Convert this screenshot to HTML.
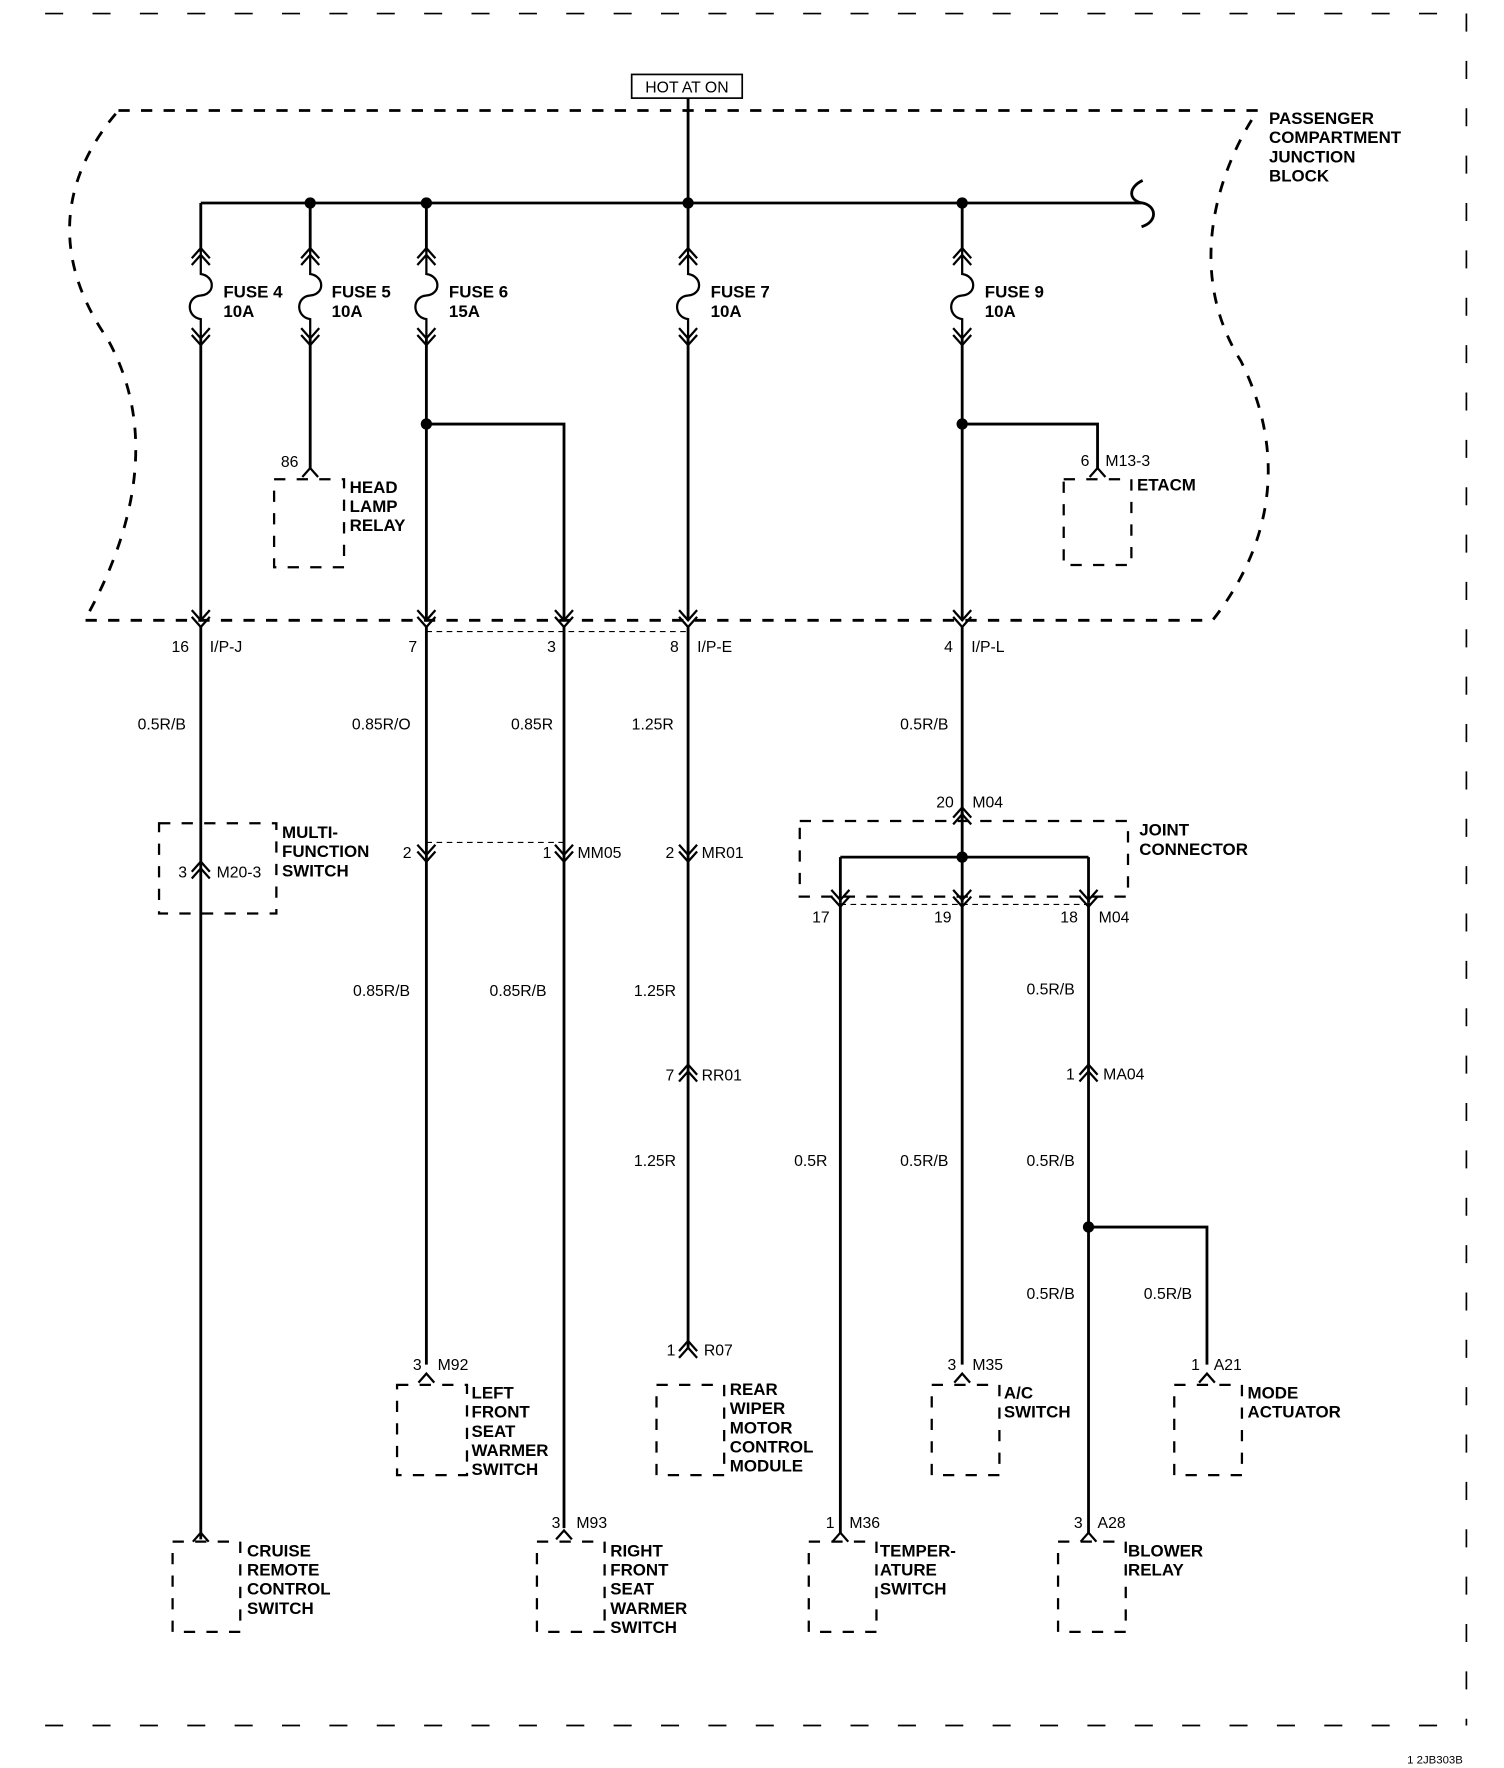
<!DOCTYPE html>
<html><head><meta charset="utf-8"><style>
html,body{margin:0;padding:0;background:#fff}
svg{display:block}
text{font-family:"Liberation Sans",Arial,sans-serif;fill:#000}
.b{font-weight:bold;font-size:15px}
.w{font-size:14px}
</style></head><body>
<svg width="1504" height="1768" viewBox="0 0 1320 1552" preserveAspectRatio="none" xmlns="http://www.w3.org/2000/svg">
<defs>
<g id="dn" fill="none" stroke="#000" stroke-width="2"><path d="M-8,-9 L0,0 L8,-9 M-8,-3 L0,6 L8,-3"/></g>
<g id="up" fill="none" stroke="#000" stroke-width="2"><path d="M-8,9 L0,0 L8,9 M-8,3 L0,-6 L8,3"/></g>
<g id="fuse" fill="none" stroke="#000" stroke-width="2"><path d="M-8,-34 L0,-43 L8,-34 M-8,-28 L0,-37 L8,-28 M0,-43 L0,-20 C13,-18 13,-2 0,-1 C-13,0 -13,18 0,20 L0,43 M-8,34 L0,43 L8,34 M-8,28 L0,37 L8,28"/></g>
</defs>
<g transform="scale(0.99)">
<g fill="none" stroke="#000" stroke-width="2" stroke-dasharray="10,10">
<path d="M40,12 H1300 M1300,12 V1530 M40,1530 H1300" stroke-dasharray="16,26" stroke-width="1.5"/>
<path d="M105,98 H1115 C1080,150 1050,240 1100,320 C1140,400 1130,480 1075,550 H75 C120,470 140,380 95,300 C40,220 60,150 105,98" stroke-width="2.5"/>
<rect x="243" y="425" width="62" height="78"/>
<rect x="943" y="425" width="60" height="76"/>
<rect x="141" y="730" width="104" height="80"/>
<rect x="709" y="728" width="291" height="67"/>
<rect x="352" y="1228" width="62" height="80"/>
<rect x="582" y="1228" width="60" height="80"/>
<rect x="826" y="1228" width="60" height="80"/>
<rect x="1041" y="1228" width="60" height="80"/>
<rect x="153" y="1367" width="60" height="80"/>
<rect x="476" y="1367" width="60" height="80"/>
<rect x="717" y="1367" width="60" height="80"/>
<rect x="938" y="1367" width="60" height="80"/>
<path d="M378,560 H610 M378,747 H500 M745,802 H965" stroke-width="1" stroke-dasharray="5,4"/>
</g>
<rect x="560" y="66" width="98" height="21" fill="#fff" stroke="#000" stroke-width="1.5"/>
<text x="609" y="82" text-anchor="middle" style="font-size:14px">HOT AT ON</text>
<g fill="none" stroke="#000" stroke-width="2.5">
<path d="M610,87 V180 M178,180 H1013 M1013,160 C1000,166 1000,178 1013,180 C1026,183 1026,197 1012,201"/>
<path d="M178,180 V220 M275,180 V220 M378,180 V220 M610,180 V220 M853,180 V220"/>
<path d="M178,300 V550 M275,300 V415 M378,300 V550 M378,376 H500 V550 M610,300 V550 M853,300 V550 M853,376 H973 V415"/>
<path d="M178,555 V1365 M378,555 V1210 M500,555 V1355 M610,555 V1195 M853,555 V728"/>
<path d="M853,720 V760 M745,760 H965 M745,760 V800 M853,760 V800 M965,760 V800"/>
<path d="M745,800 V1360 M853,800 V1210 M965,800 V1360 M965,1088 H1070 V1210"/>
</g>
<g fill="#000"><circle cx="275" cy="180" r="5"/><circle cx="378" cy="180" r="5"/><circle cx="610" cy="180" r="5"/><circle cx="853" cy="180" r="5"/><circle cx="378" cy="376" r="5"/><circle cx="853" cy="376" r="5"/><circle cx="853" cy="760" r="5"/><circle cx="965" cy="1088" r="5"/></g>
<g fill="#fff">
<use href="#fuse" x="178" y="263"/><use href="#fuse" x="275" y="263"/><use href="#fuse" x="378" y="263"/><use href="#fuse" x="610" y="263"/><use href="#fuse" x="853" y="263"/>
<use href="#dn" x="178" y="550"/><use href="#dn" x="378" y="550"/><use href="#dn" x="500" y="550"/><use href="#dn" x="610" y="550"/><use href="#dn" x="853" y="550"/>
<use href="#dn" x="378" y="758"/><use href="#dn" x="500" y="758"/><use href="#dn" x="610" y="758"/>
<use href="#dn" x="745" y="798"/><use href="#dn" x="853" y="798"/><use href="#dn" x="965" y="798"/>
<use href="#up" x="853" y="722"/><use href="#up" x="178" y="770"/><use href="#up" x="610" y="950"/><use href="#up" x="965" y="950"/><use href="#up" x="610" y="1195"/>
</g>
<g fill="none" stroke="#000" stroke-width="2"><path d="M268,423 L275,415 L282,423 M966,423 L973,415 L980,423 M371,1226 L378,1218 L385,1226 M846,1226 L853,1218 L860,1226 M1063,1226 L1070,1218 L1077,1226 M171,1367 L178,1359 L185,1367 M493,1365 L500,1357 L507,1365 M738,1367 L745,1359 L752,1367 M958,1367 L965,1359 L972,1367"/></g>
<g class="b">
<text x="198" y="264">FUSE 4</text><text x="198" y="281">10A</text>
<text x="294" y="264">FUSE 5</text><text x="294" y="281">10A</text>
<text x="398" y="264">FUSE 6</text><text x="398" y="281">15A</text>
<text x="630" y="264">FUSE 7</text><text x="630" y="281">10A</text>
<text x="873" y="264">FUSE 9</text><text x="873" y="281">10A</text>
<text x="1125" y="110">PASSENGER</text><text x="1125" y="127">COMPARTMENT</text><text x="1125" y="144">JUNCTION</text><text x="1125" y="161">BLOCK</text>
<text x="310" y="437">HEAD</text><text x="310" y="454">LAMP</text><text x="310" y="471">RELAY</text>
<text x="1008" y="435">ETACM</text>
<text x="250" y="743">MULTI-</text><text x="250" y="760">FUNCTION</text><text x="250" y="777">SWITCH</text>
<text x="1010" y="741">JOINT</text><text x="1010" y="758">CONNECTOR</text>
<text x="418" y="1240">LEFT</text><text x="418" y="1257">FRONT</text><text x="418" y="1274">SEAT</text><text x="418" y="1291">WARMER</text><text x="418" y="1308">SWITCH</text>
<text x="647" y="1237">REAR</text><text x="647" y="1254">WIPER</text><text x="647" y="1271">MOTOR</text><text x="647" y="1288">CONTROL</text><text x="647" y="1305">MODULE</text>
<text x="890" y="1240">A/C</text><text x="890" y="1257">SWITCH</text>
<text x="1106" y="1240">MODE</text><text x="1106" y="1257">ACTUATOR</text>
<text x="219" y="1380">CRUISE</text><text x="219" y="1397">REMOTE</text><text x="219" y="1414">CONTROL</text><text x="219" y="1431">SWITCH</text>
<text x="541" y="1380">RIGHT</text><text x="541" y="1397">FRONT</text><text x="541" y="1414">SEAT</text><text x="541" y="1431">WARMER</text><text x="541" y="1448">SWITCH</text>
<text x="780" y="1380">TEMPER-</text><text x="780" y="1397">ATURE</text><text x="780" y="1414">SWITCH</text>
<text x="1000" y="1380">BLOWER</text><text x="1000" y="1397">RELAY</text>
</g>
<g class="w">
<text x="249" y="414">86</text><text x="958" y="413">6</text><text x="980" y="413">M13-3</text>
<text x="152" y="578">16</text><text x="186" y="578">I/P-J</text>
<text x="362" y="578">7</text><text x="485" y="578">3</text>
<text x="594" y="578">8</text><text x="618" y="578">I/P-E</text>
<text x="837" y="578">4</text><text x="861" y="578">I/P-L</text>
<text x="122" y="647">0.5R/B</text><text x="312" y="647">0.85R/O</text><text x="453" y="647">0.85R</text><text x="560" y="647">1.25R</text><text x="798" y="647">0.5R/B</text>
<text x="830" y="716">20</text><text x="862" y="716">M04</text>
<text x="158" y="778">3</text><text x="192" y="778">M20-3</text>
<text x="357" y="761">2</text><text x="481" y="761">1</text><text x="512" y="761">MM05</text>
<text x="590" y="761">2</text><text x="622" y="761">MR01</text>
<text x="720" y="818">17</text><text x="828" y="818">19</text><text x="940" y="818">18</text><text x="974" y="818">M04</text>
<text x="313" y="883">0.85R/B</text><text x="434" y="883">0.85R/B</text><text x="562" y="883">1.25R</text><text x="910" y="882">0.5R/B</text>
<text x="590" y="958">7</text><text x="622" y="958">RR01</text>
<text x="945" y="957">1</text><text x="978" y="957">MA04</text>
<text x="562" y="1034">1.25R</text><text x="704" y="1034">0.5R</text><text x="798" y="1034">0.5R/B</text><text x="910" y="1034">0.5R/B</text>
<text x="910" y="1152">0.5R/B</text><text x="1014" y="1152">0.5R/B</text>
<text x="591" y="1202">1</text><text x="624" y="1202">R07</text>
<text x="366" y="1215">3</text><text x="388" y="1215">M92</text>
<text x="840" y="1215">3</text><text x="862" y="1215">M35</text>
<text x="1056" y="1215">1</text><text x="1076" y="1215">A21</text>
<text x="489" y="1355">3</text><text x="511" y="1355">M93</text>
<text x="732" y="1355">1</text><text x="753" y="1355">M36</text>
<text x="952" y="1355">3</text><text x="973" y="1355">A28</text>
</g>
</g>
<text x="1235" y="1548" style="font-size:10px">1 2JB303B</text>
</svg>
</body></html>
